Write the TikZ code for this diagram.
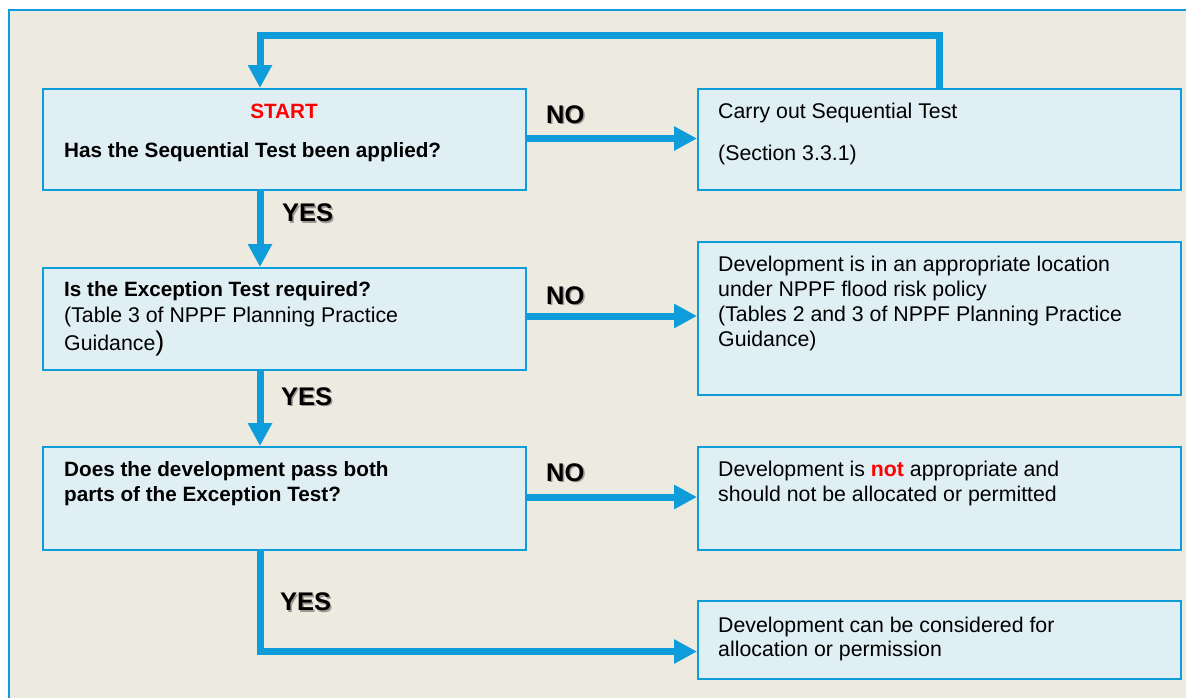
\documentclass[tikz,border=0pt]{standalone}
\usepackage{fontspec}
\setmainfont{Liberation Sans}
\usetikzlibrary{arrows.meta}
\definecolor{fbblue}{HTML}{0E9DDA}
\definecolor{fbbg}{HTML}{EDEAE0}
\definecolor{fbfill}{HTML}{DFEFF4}
\definecolor{fbred}{HTML}{FF0000}
\tikzset{
  box/.style={draw=fbblue, fill=fbfill, line width=2pt, anchor=north west, inner sep=0pt},
  txt/.style={anchor=base west, inner sep=0pt, font=\fontsize{21.3}{25}\selectfont},
  btxt/.style={anchor=base west, inner sep=0pt, font=\fontsize{20.7}{25}\selectfont\bfseries},
  lbl/.style={anchor=base west, inner sep=0pt, font=\fontsize{25.5}{30}\selectfont\bfseries},
  lblshadow/.style={lbl, text=black, opacity=0.35},
  flow/.style={draw=fbblue, line width=7pt, -{Triangle[width=23pt,length=23pt]}},
}
\begin{document}
\begin{tikzpicture}[x=1pt, y=-1pt]
\useasboundingbox (0,0) rectangle (1186,697);
\clip (0,0) rectangle (1186,697);
\fill[white] (0,0) rectangle (1186,697);
\draw[fbblue, line width=2pt, fill=fbbg] (8.5,10) rectangle (1200,710);

% boxes
\node[box, minimum width=483pt, minimum height=101pt] (b1) at (42,88) {};
\node[box, minimum width=483pt, minimum height=101pt] (b2) at (697,88) {};
\node[box, minimum width=483pt, minimum height=102pt] (b3) at (42,267) {};
\node[box, minimum width=483pt, minimum height=153pt] (b4) at (697,241) {};
\node[box, minimum width=483pt, minimum height=103pt] (b5) at (42,446) {};
\node[box, minimum width=483pt, minimum height=103pt] (b6) at (697,446) {};
\node[box, minimum width=483pt, minimum height=78pt] (b7) at (697,600) {};

% helper coordinates
\coordinate (ax) at (260,0);
\coordinate (lx) at (939,0);
\coordinate (top) at (0,35.5);
\coordinate (yA) at (0,138.5);
\coordinate (yB) at (0,316);
\coordinate (yC) at (0,497);
\coordinate (yD) at (0,651.5);

% connectors
\draw[flow] (b2.north -| lx) |- (top -| ax) -- (b1.north -| ax);
\draw[flow] (b1.east |- yA) -- (b2.west |- yA);
\draw[flow] (b3.east |- yB) -- (b4.west |- yB);
\draw[flow] (b5.east |- yC) -- (b6.west |- yC);
\draw[flow] (b1.south -| ax) -- (b3.north -| ax);
\draw[flow] (b3.south -| ax) -- (b5.north -| ax);
\draw[flow] (b5.south -| ax) |- (b7.west |- yD);

% texts
\node[btxt, text=fbred, anchor=base] (t1a) at (284,118) {START};
\node[btxt] (t1b) at (64,157.5) {Has the Sequential Test been applied?};
\node[txt] (t2a) at (718,118) {Carry out Sequential Test};
\node[txt] (t2b) at (718,160) {(Section 3.3.1)};
\node[btxt] (t3a) at (64,296) {Is the Exception Test required?};
\node[txt] (t3b) at (64,322) {(Table 3 of NPPF Planning Practice};
\node[txt] (t3c) at (64,350) {Guidance{\fontsize{27}{27}\selectfont)}};
\node[txt] (t4a) at (718,271) {Development is in an appropriate location};
\node[txt] (t4b) at (718,296) {under NPPF flood risk policy};
\node[txt] (t4c) at (718,321) {(Tables 2 and 3 of NPPF Planning Practice};
\node[txt] (t4d) at (718,346) {Guidance)};
\node[btxt] (t5a) at (64,476) {Does the development pass both};
\node[btxt] (t5b) at (64,501.5) {parts of the Exception Test?};
\node[txt] (t6a) at (718,476) {Development is \textcolor{fbred}{\textbf{not}} appropriate and};
\node[txt] (t6b) at (718,501.5) {should not be allocated or permitted};
\node[txt] (t7a) at (718,632) {Development can be considered for};
\node[txt] (t7b) at (718,656) {allocation or permission};

% labels with soft shadow
\node[lblshadow] (s1) at (547.5,124.5) {NO};
\node[lbl] (n1) at (546,123) {NO};
\node[lblshadow] (s2) at (547.5,305.5) {NO};
\node[lbl] (n2) at (546,304) {NO};
\node[lblshadow] (s3) at (547.5,482.5) {NO};
\node[lbl] (n3) at (546,481) {NO};
\node[lblshadow] (s4) at (283.5,223) {YES};
\node[lbl] (y1) at (282,221.5) {YES};
\node[lblshadow] (s5) at (282.5,406.5) {YES};
\node[lbl] (y2) at (281,405) {YES};
\node[lblshadow] (s6) at (281.5,612) {YES};
\node[lbl] (y3) at (280,610.5) {YES};
\end{tikzpicture}
\end{document}
